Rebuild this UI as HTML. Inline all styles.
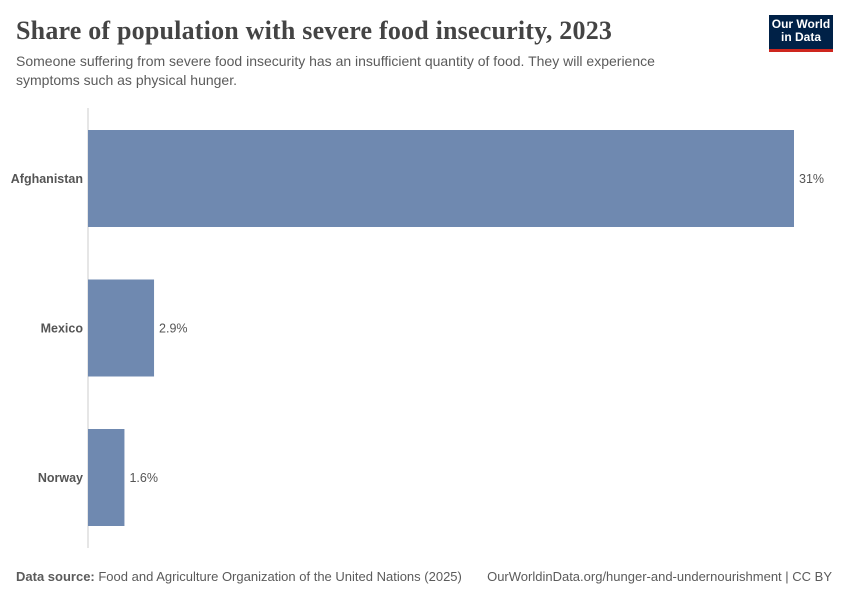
<!DOCTYPE html>
<html><head><meta charset="utf-8"><style>
body{margin:0;width:850px;height:600px;background:#fff;font-family:"Liberation Sans",sans-serif;position:relative;overflow:hidden}
.t{position:absolute;white-space:nowrap}
</style></head><body>
<div class="t" style="left:16px;top:16px;font-family:'Liberation Serif',serif;font-size:26px;font-weight:bold;letter-spacing:0.2px;color:#444">Share of population with severe food insecurity, 2023</div>
<div class="t" style="left:16px;top:52px;font-size:14px;line-height:19px;color:#5b5b5b">Someone suffering from severe food insecurity has an insufficient quantity of food. They will experience<br>symptoms such as physical hunger.</div>
<div style="position:absolute;left:769px;top:15px;width:64px;height:31px;background:#002147;border-bottom:3px solid #ce261e;color:#fff;font-size:12px;font-weight:bold;line-height:13px;text-align:center;padding-top:3px">Our World<br>in Data</div>
<svg id="c" width="850" height="600" style="position:absolute;left:0;top:0"></svg>
<div class="t" style="left:16px;top:569px;font-size:13px;color:#5b5b5b"><b>Data source:</b> Food and Agriculture Organization of the United Nations (2025)</div>
<div class="t" style="right:18px;top:569px;font-size:13px;color:#5b5b5b">OurWorldinData.org/hunger-and-undernourishment | CC BY</div>
<script>
const categories=["Afghanistan","Mexico","Norway"];
const values=[31,2.9,1.6];
const labels=["31%","2.9%","1.6%"];
const svg=document.getElementById('c');
const NS="http://www.w3.org/2000/svg";
const x0=88,pxPer=706/31;
const xs=v=>x0+v*pxPer;
const yTop=i=>130+i*149.5;
const bh=97;
const ax=document.createElementNS(NS,'line');


ax.setAttribute('x1',x0);ax.setAttribute('x2',x0);ax.setAttribute('y1',108);ax.setAttribute('y2',548);
ax.setAttribute('stroke','#ccc');svg.appendChild(ax);
categories.forEach((c,i)=>{
 const r=document.createElementNS(NS,'rect');
 
 
 r.setAttribute('x',x0);r.setAttribute('y',yTop(i));r.setAttribute('width',xs(values[i])-x0);r.setAttribute('height',bh);
 r.setAttribute('fill','#6f89b0');svg.appendChild(r);
 const l=document.createElementNS(NS,'text');
 
 
 l.setAttribute('x',x0-5);l.setAttribute('y',yTop(i)+bh/2+4.5);l.setAttribute('text-anchor','end');
 l.setAttribute('font-size','12.5');l.setAttribute('font-weight','bold');l.setAttribute('fill','#555');
 l.textContent=c;svg.appendChild(l);
 const v=document.createElementNS(NS,'text');
 
 
 v.setAttribute('x',xs(values[i])+5);v.setAttribute('y',yTop(i)+bh/2+4.5);
 v.setAttribute('font-size','12.5');v.setAttribute('fill','#555');
 v.textContent=labels[i];svg.appendChild(v);
});
</script>
</body></html>
